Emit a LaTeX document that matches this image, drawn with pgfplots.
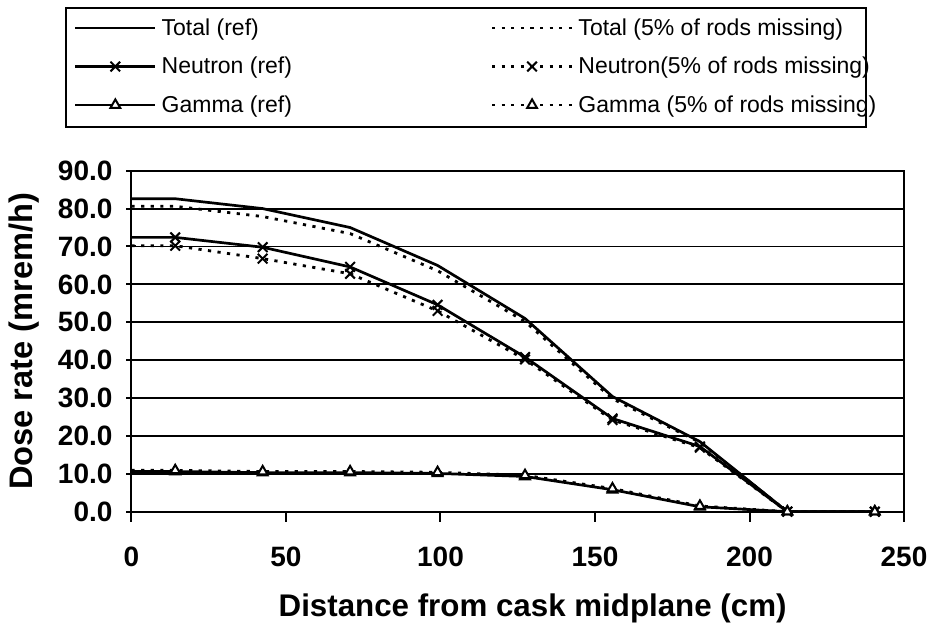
\documentclass[border=0pt]{standalone}
\usepackage{fontspec}
\setmainfont{Liberation Sans}
\usepackage{pgfplots}
\pgfplotsset{compat=1.18}
\begin{document}
\begin{tikzpicture}
\useasboundingbox (-65.75pt,-56.15pt) rectangle (400.25pt,255.85pt);
\begin{axis}[
  scale only axis, width=386.25pt, height=170.5pt,
  xmin=0, xmax=250, ymin=0, ymax=90,
  xtick={0,50,...,250}, ytick={0,10,...,90},
  xtick pos=bottom, ytick pos=left,
  tick align=outside, major tick length=5pt,
  ymajorgrids, grid style={black, line width=0.95pt},
  axis line style={line width=1pt},
  major tick style={black, line width=1pt},
  y tick style={xshift=2.5pt},
  /pgf/number format/assume math mode=true,
  yticklabel={\pgfmathprintnumber[fixed,fixed zerofill,precision=1]{\tick}},
  xticklabel={\pgfmathprintnumber[fixed]{\tick}},
  tick label style={font=\fontsize{14}{17}\selectfont\bfseries},
  yticklabel style={xshift=-1pt},
  xticklabel style={yshift=-9pt},
  xlabel={Distance from cask midplane (cm)},
  ylabel={Dose rate (mrem/h)},
  label style={font=\fontsize{15.65}{18}\selectfont\bfseries, inner sep=0pt},
  xlabel style={at={(axis description cs:0.19,-0.3088)}, anchor=base west},
  ylabel style={font=\fontsize{16.3}{18}\selectfont\bfseries, at={(axis description cs:-0.1275,0.5)}, anchor=base},
  legend columns=2,
  legend style={at={(-0.0861,1.480)}, anchor=north west, draw=black, line width=1pt,
    font=\fontsize{11.5}{13}\selectfont, inner xsep=4pt, inner ysep=5pt, row sep=8.25pt,
    nodes={inner sep=0pt, text height=8.5pt, text depth=2.5pt, anchor=base west},
    /tikz/column 1/.style={column sep=2.5pt},
    /tikz/column 2/.style={column sep=0pt},
    /tikz/column 3/.style={column sep=2.5pt}},
  legend image code/.code={\draw[mark indices={2}] plot coordinates {(0pt,3.5pt) (20pt,3.5pt) (40pt,3.5pt)};},
  mark indices={2,...,10},
  base/.style={black, line width=1.35pt},
  refx/.style={base, mark=x, mark size=3.4pt, mark options={solid, line width=1pt}},
  reft/.style={base, mark=triangle*, mark size=2.8pt, mark options={solid, fill=white, line width=1pt}},
  dots/.style={dash pattern=on 1.6pt off 3.2pt, line width=1.4pt},
]
\addplot[base, no marks] coordinates {(0,82.6) (14.15,82.6) (42.45,80.0) (70.75,75.0) (99.05,65.0) (127.35,51.0) (155.65,30.4) (183.95,18.5) (212.25,0) (240.55,0)};
\addlegendentry{\makebox[164.5pt][l]{Total (ref)}}
\addplot[base, no marks, dots] coordinates {(0,80.6) (14.15,80.6) (42.45,77.9) (70.75,73.4) (99.05,63.6) (127.35,50.2) (155.65,29.8) (183.95,18.3) (212.25,0) (240.55,0)};
\addlegendentry{\makebox[140pt][l]{Total (5\% of rods missing)}}
\addplot[refx] coordinates {(0,72.4) (14.15,72.4) (42.45,69.8) (70.75,64.6) (99.05,54.6) (127.35,40.8) (155.65,24.6) (183.95,17.2) (212.25,0) (240.55,0)};
\addlegendentry{\makebox[164.5pt][l]{Neutron (ref)}}
\addplot[refx, dots] coordinates {(0,70.2) (14.15,70.2) (42.45,66.8) (70.75,62.8) (99.05,53.0) (127.35,40.2) (155.65,24.2) (183.95,16.9) (212.25,0) (240.55,0)};
\addlegendentry{\makebox[140pt][l]{Neutron(5\% of rods missing)}}
\addplot[reft] coordinates {(0,10.6) (14.15,10.6) (42.45,10.3) (70.75,10.3) (99.05,10.1) (127.35,9.3) (155.65,5.8) (183.95,1.3) (212.25,0) (240.55,0)};
\addlegendentry{\makebox[164.5pt][l]{Gamma (ref)}}
\addplot[reft, dots] coordinates {(0,10.9) (14.15,10.9) (42.45,10.6) (70.75,10.6) (99.05,10.4) (127.35,9.6) (155.65,6.1) (183.95,1.5) (212.25,0) (240.55,0)};
\addlegendentry{\makebox[140pt][l]{Gamma (5\% of rods missing)}}
\end{axis}
\end{tikzpicture}
\end{document}
